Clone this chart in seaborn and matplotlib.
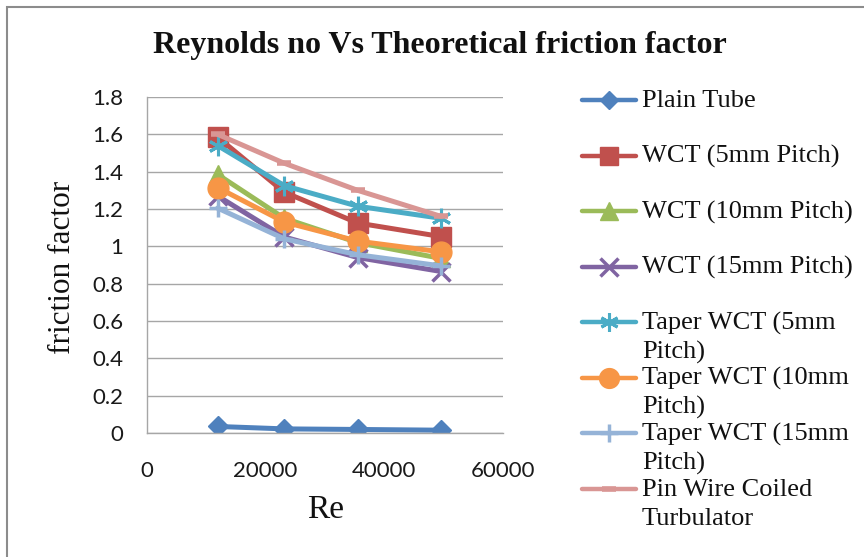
import matplotlib
matplotlib.use("Agg")
import matplotlib.pyplot as plt
import numpy as np
import pandas as pd
import seaborn as sns
from matplotlib.lines import Line2D
from matplotlib.patches import Rectangle

# ---------------- data ----------------
reynolds = [11900, 23150, 35500, 49600]
plain_tube = [0.035, 0.022, 0.019, 0.015]
wct_5mm = [1.585, 1.29, 1.125, 1.052]
wct_10mm = [1.385, 1.15, 1.02, 0.935]
wct_15mm = [1.27, 1.05, 0.94, 0.865]
taper_5mm = [1.54, 1.325, 1.215, 1.15]
taper_10mm = [1.315, 1.13, 1.028, 0.97]
taper_15mm = [1.205, 1.04, 0.955, 0.895]
pin_wire = [1.60, 1.445, 1.30, 1.16]

series_names = ["Plain Tube", "WCT (5mm Pitch)", "WCT (10mm Pitch)", "WCT (15mm Pitch)",
                "Taper WCT (5mm Pitch)", "Taper WCT (10mm Pitch)", "Taper WCT (15mm Pitch)",
                "Pin Wire Coiled Turbulator"]
legend_lines = [["Plain Tube"], ["WCT (5mm Pitch)"], ["WCT (10mm Pitch)"], ["WCT (15mm Pitch)"],
                ["Taper WCT (5mm", "Pitch)"], ["Taper WCT (10mm", "Pitch)"],
                ["Taper WCT (15mm", "Pitch)"], ["Pin Wire Coiled", "Turbulator"]]
series_values = [plain_tube, wct_5mm, wct_10mm, wct_15mm, taper_5mm, taper_10mm, taper_15mm, pin_wire]
y_ticks = [0, 0.2, 0.4, 0.6, 0.8, 1.0, 1.2, 1.4, 1.6, 1.8]
x_ticks = [0, 20000, 40000, 60000]

# ---------------- styles ----------------
colors = ["#4F81BD", "#C0504D", "#9BBB59", "#8064A2", "#4BACC6", "#F79646", "#95B3D7", "#D99694"]
markers = ["D", "s", "^", "x", (6, 2, 0), "o", "+", "_"]
msizes = [10, 14, 13, 13, 14, 15, 13, 10]
mews = [1, 1, 1, 2.5, 2.2, 1, 2.5, 4]

df = pd.DataFrame({
    "Re": np.tile(reynolds, len(series_names)),
    "f": np.concatenate(series_values),
    "series": np.repeat(series_names, len(reynolds)),
})

W, H = 864, 557
fig = plt.figure(figsize=(W / 100, H / 100), dpi=100)
sns.set_style("white")
serif = ["Liberation Serif", "DejaVu Serif"]
sansf = ["Lato", "DejaVu Sans"]

def fx(px):
    return px / W

def fy(py):
    return 1 - py / H

ax = fig.add_axes([fx(147), fy(433), fx(503) - fx(147), fy(97) - fy(433)])

for name, c, m, ms, mew in zip(series_names, colors, markers, msizes, mews):
    sub = df[df["series"] == name]
    sns.lineplot(data=sub, x="Re", y="f", ax=ax, color=c, marker=m, markersize=ms,
                 markeredgewidth=mew, markeredgecolor=c, markerfacecolor=c,
                 linewidth=3.6, legend=False, errorbar=None, sort=False)

ax.set_xlim(0, 60000)
ax.set_ylim(0, 1.8)
ax.set_xticks(x_ticks)
ax.set_yticks(y_ticks)
ax.set_xticklabels([f"{v:g}" for v in x_ticks])
ax.set_yticklabels([f"{v:g}" for v in y_ticks])
ax.yaxis.grid(True, color="#A6A6A6", linewidth=1.0)
ax.xaxis.grid(False)
ax.set_axisbelow(True)
for s in ["top", "right"]:
    ax.spines[s].set_visible(False)
for s in ["left", "bottom"]:
    ax.spines[s].set_color("#A6A6A6")
    ax.spines[s].set_linewidth(1.0)
ax.tick_params(axis="both", length=0, labelsize=16, colors="#1a1a1a")
ax.tick_params(axis="y", pad=17)
ax.tick_params(axis="x", pad=20)
for lbl in ax.get_xticklabels() + ax.get_yticklabels():
    lbl.set_family(sansf)
ax.set_xlabel("")
ax.set_ylabel("")

fig.text(fx(326), fy(510), "Re", family=serif, fontsize=24, ha="center", va="center", color="#111111")
fig.text(fx(62), fy(267), "friction factor", family=serif, fontsize=22.5, rotation=90,
         ha="center", va="center", color="#111111")
fig.text(fx(440), fy(46), "Reynolds no Vs Theoretical friction factor", family=serif,
         fontsize=23, fontweight="bold", ha="center", va="center", color="#111111")

# legend (drawn entry by entry, Excel-like layout)
leg_y = [100, 155.5, 211, 266.5, 322, 377.5, 433, 489]
for lines, c, m, ms, mew, yy in zip(legend_lines, colors, markers, msizes, mews, leg_y):
    fig.add_artist(Line2D([fx(582), fx(636)], [fy(yy), fy(yy)], color=c, linewidth=3.2,
                          transform=fig.transFigure))
    fig.add_artist(Line2D([fx(609)], [fy(yy)], color=c, marker=m, markersize=ms * 0.95,
                          markeredgewidth=mew, markerfacecolor=c, markeredgecolor=c,
                          linestyle="none", transform=fig.transFigure))
    for k, t in enumerate(lines):
        fig.text(fx(642), fy(yy + 1 + 29 * k), t, family=serif, fontsize=19,
                 ha="left", va="center", color="#111111")

# outer chart border
fig.add_artist(Rectangle((fx(7), fy(600)), 2, fy(7) - fy(600), fill=False,
                         edgecolor="#8C8C8C", linewidth=1.5, transform=fig.transFigure))

fig.savefig("out.png", dpi=100)
